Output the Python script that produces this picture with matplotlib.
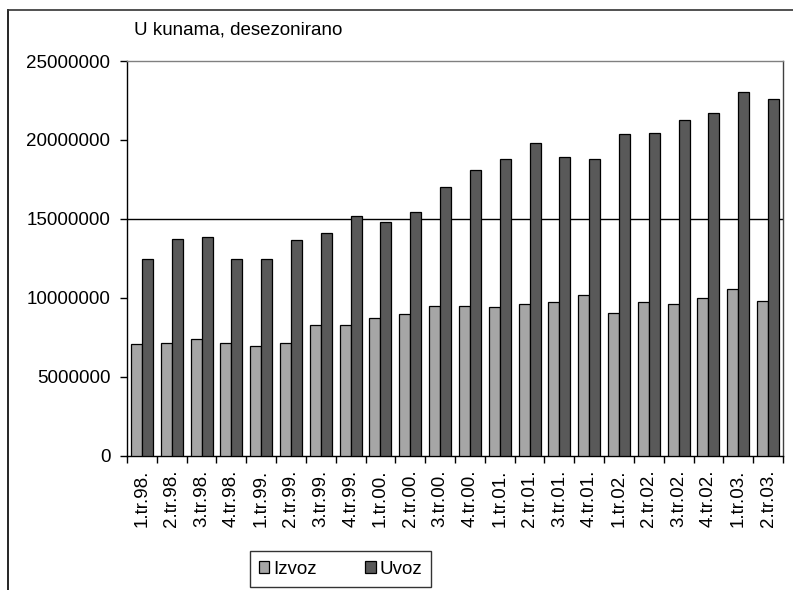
import matplotlib
matplotlib.use("Agg")
import matplotlib.pyplot as plt
import numpy as np
from matplotlib.lines import Line2D

plt.rcParams['font.family'] = ['Liberation Sans', 'DejaVu Sans']

categories = ["1.tr.98.", "2.tr.98.", "3.tr.98.", "4.tr.98.",
              "1.tr.99.", "2.tr.99.", "3.tr.99.", "4.tr.99.",
              "1.tr.00.", "2.tr.00.", "3.tr.00.", "4.tr.00.",
              "1.tr.01.", "2.tr.01.", "3.tr.01.", "4.tr.01.",
              "1.tr.02.", "2.tr.02.", "3.tr.02.", "4.tr.02.",
              "1.tr.03.", "2.tr.03."]
izvoz = [7060000, 7160000, 7390000, 7160000, 6950000, 7160000, 8300000, 8300000,
         8740000, 8970000, 9500000, 9500000, 9390000, 9600000, 9750000, 10180000,
         9060000, 9750000, 9600000, 9970000, 10530000, 9830000]
uvoz = [12430000, 13750000, 13880000, 12430000, 12430000, 13670000, 14110000, 15200000,
        14780000, 15440000, 16990000, 18090000, 18790000, 19800000, 18930000, 18790000,
        20370000, 20470000, 21270000, 21690000, 23060000, 22600000]
yticks = [0, 5000000, 10000000, 15000000, 20000000, 25000000]
title = "U kunama, desezonirano"
series_names = ["Izvoz", "Uvoz"]

FS = 13.5
W, H = 793, 590
fig = plt.figure(figsize=(W / 100, H / 100), dpi=100)
ax = fig.add_axes([127 / W, 1 - 455.7 / H, (783 - 127) / W, (455.7 - 61) / H])

x = np.arange(len(categories))
bw = 0.37
ax.bar(x - bw / 2, izvoz, bw, color="#A6A6A6", edgecolor="black", linewidth=0.9,
       label=series_names[0], zorder=3)
ax.bar(x + bw / 2, uvoz, bw, color="#595959", edgecolor="black", linewidth=0.9,
       label=series_names[1], zorder=3)

ax.set_xlim(-0.5, len(categories) - 0.5)
ax.set_ylim(0, 25000000)
ax.set_yticks(yticks)
ax.set_yticklabels([str(v) for v in yticks], fontsize=FS)
ax.axhline(15000000, color="black", linewidth=1.0, zorder=2)

ax.set_xticks(x)
ax.set_xticklabels(categories, rotation=90, fontsize=FS)
ax.set_xticks(np.arange(len(categories) + 1) - 0.5, minor=True)
ax.tick_params(axis="x", which="major", length=0, pad=10)
ax.tick_params(axis="x", which="minor", length=5, width=1, direction="out")
ax.tick_params(axis="y", length=5, width=1, direction="out", pad=7)

ax.spines["left"].set_color("black")
ax.spines["bottom"].set_color("black")
ax.spines["top"].set_color("#808080")
ax.spines["right"].set_color("#404040")
for s in ax.spines.values():
    s.set_linewidth(1.0)

fig.text(134 / W, 1 - 30 / H, title, fontsize=FS, ha="left", va="center")

# outer chart frame (partially cropped)
fig.add_artist(Line2D([8 / W, 8 / W], [0, 1 - 9.5 / H], transform=fig.transFigure,
                      color="black", linewidth=1.2))
fig.add_artist(Line2D([8 / W, 1], [1 - 9.5 / H, 1 - 9.5 / H], transform=fig.transFigure,
                      color="#333333", linewidth=1.2))

leg = fig.legend(loc="center", bbox_to_anchor=(340.5 / W, 1 - 569 / H), ncol=2,
                 frameon=True, fancybox=False, edgecolor="black", fontsize=FS,
                 handlelength=0.55, handleheight=0.55, handletextpad=0.2,
                 columnspacing=2.6, borderpad=0.5, borderaxespad=0)
leg.get_frame().set_linewidth(1.0)

fig.savefig("out.png", dpi=100)
